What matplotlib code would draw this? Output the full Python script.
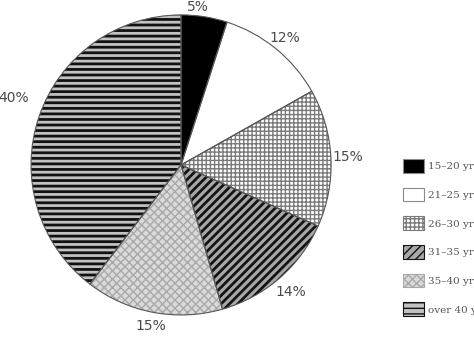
import numpy as np
import matplotlib
matplotlib.use("Agg")
import matplotlib.pyplot as plt
from matplotlib.patches import Patch

categories = ["15\u201320 yr", "21\u201325 yr", "26\u201330 yr", "31\u201335 yr", "35\u201340 yr", "over 40 yr"]
values = [5, 12, 15, 14, 15, 40]
pct_labels = ["5%", "12%", "15%", "14%", "15%", "40%"]

faces = ["black", "white", "white", "#a8a8a8", "#dadada", "#c2c2c2"]
hatches = [None, None, "++++", "////", "xxxx", "---"]
hatch_cols = ["black", "white", "#7a7a7a", "#151515", "#a9a9a9", "#111111"]
hatch_lws = [1.0, 1.0, 1.0, 2.0, 1.0, 2.0]

plt.rcParams["hatch.linewidth"] = 1.0


def set_hlw(p, lw):
    if hasattr(p, "set_hatch_linewidth"):
        p.set_hatch_linewidth(lw)
    else:
        p._hatch_linewidth = lw


fig = plt.figure(figsize=(4.74, 3.38), dpi=100)
ax = fig.add_axes([0.0655, 0.068, 0.633, 0.888])
ax.set_aspect("equal")
ax.axis("off")

wedges, _ = ax.pie(values, startangle=90, counterclock=False, radius=1.0,
                   wedgeprops=dict(linewidth=0))
for w, fc, h, hc, hl in zip(wedges, faces, hatches, hatch_cols, hatch_lws):
    w.set_facecolor(fc)
    w.set_edgecolor(hc)
    w.set_linewidth(0)
    if h:
        w.set_hatch(h)
        set_hlw(w, hl)

# outlines
outl, _ = ax.pie(values, startangle=90, counterclock=False, radius=1.0,
                 wedgeprops=dict(fill=False, edgecolor="#555555", linewidth=0.8))

dists = [1.06, 1.09, 1.11, 1.12, 1.09, 1.2]
angle_shift = [3, 0, 0, 0, 0, -3]
for w, lab, d, s in zip(wedges, pct_labels, dists, angle_shift):
    ang = np.deg2rad((w.theta1 + w.theta2) / 2 + s)
    ax.text(d * np.cos(ang), d * np.sin(ang), lab, ha="center", va="center",
            fontsize=10, color="#4a4a4a", family="DejaVu Sans", clip_on=False)

ax.set_xlim(-1, 1)
ax.set_ylim(-1, 1)

handles = []
for fc, h, hc, hl in zip(faces, hatches, hatch_cols, hatch_lws):
    ec = hc if h else "#8a8a8a"
    p = Patch(facecolor=fc, edgecolor=ec, hatch=h, linewidth=0.8)
    if h:
        set_hlw(p, hl)
    handles.append(p)

leg = fig.legend(handles, categories, loc="upper left",
                 bbox_to_anchor=(403 / 474, 1 - 159 / 338),
                 frameon=False, handlelength=2.0, handleheight=1.63,
                 labelspacing=1.45, handletextpad=0.4, borderpad=0, borderaxespad=0,
                 prop={"family": "DejaVu Serif", "size": 7.5}, labelcolor="#555555")

fig.savefig("out.png", dpi=100)
